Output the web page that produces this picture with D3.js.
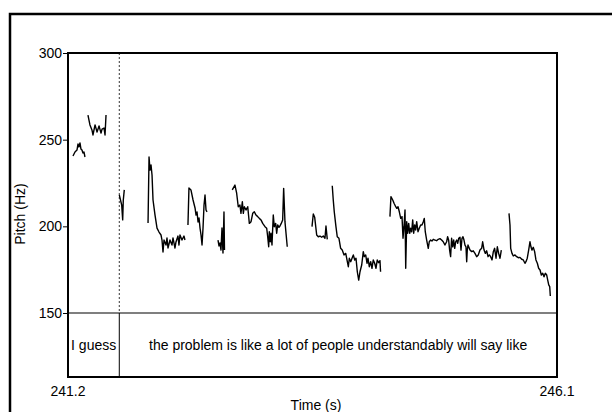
<!DOCTYPE html>
<html>
<head>
<meta charset="utf-8">
<script src="https://cdn.jsdelivr.net/npm/d3@7"></script>
<style>
  body { margin: 0; background: #fff; }
  text { font-family: "Liberation Sans", Arial, sans-serif; }
</style>
</head>
<body>
<div id="chart"></div>
<script>
const w = 612;
const h = 412;

// time range and pitch range
const timeRange = [241.2, 246.1];
const pitchRange = [150, 300];
const pitchTicks = [150, 200, 250, 300];
const timeTicks = ["241.2", "246.1"];

// textgrid tier
const boundaries = [241.714];
const words = [
  { start: 241.2, end: 241.714, text: "I guess" },
  { start: 241.714, end: 246.1, text: "the problem is like a lot of people understandably will say like" }
];

// pitch track, [time (s), pitch (Hz)]
const seg1 = [[241.250,240.6],[241.270,242.9],[241.290,244.0],[241.300,247.5],[241.310,245.8],[241.320,248.1],[241.330,244.6],[241.340,244.0],[241.350,242.3],[241.360,242.9],[241.370,240.0]];
const seg2 = [[241.400,264.2],[241.420,258.5],[241.440,255.6],[241.450,252.7],[241.471,258.5],[241.491,254.4],[241.511,257.9],[241.531,253.8],[241.541,256.1],[241.561,256.7],[241.571,252.7],[241.581,264.2]];
const seg3 = [[241.714,218.1],[241.738,212.3],[241.748,203.7],[241.754,215.2],[241.764,221.0]];
const seg4 = [[242.002,201.9],[242.012,240.0],[242.022,232.5],[242.032,235.4],[242.042,229.6],[242.052,215.2],[242.072,206.5],[242.092,199.0],[242.112,196.7],[242.132,195.0],[242.142,192.1],[242.152,185.2],[242.162,192.1],[242.182,189.2],[242.192,193.3],[242.202,187.5],[242.222,192.1],[242.242,189.2],[242.252,193.3],[242.272,187.5],[242.282,191.0],[242.302,194.4],[242.312,189.2],[242.322,195.0],[242.342,192.1],[242.362,194.4],[242.372,192.1]];
const seg5 = [[242.402,200.8],[242.412,222.1],[242.432,221.0],[242.453,215.2],[242.473,210.6],[242.483,206.5],[242.493,208.3],[242.503,202.5],[242.513,204.8],[242.523,199.0],[242.533,195.0],[242.543,189.2],[242.553,199.0],[242.563,212.3],[242.573,218.1],[242.583,209.4],[242.593,208.3]];
const seg6 = [[242.703,192.1],[242.713,188.7],[242.723,190.4],[242.733,186.3],[242.743,199.0],[242.753,184.6],[242.763,208.3],[242.768,186.3]];
const seg7 = [[242.846,221.0],[242.873,223.8],[242.890,219.1],[242.906,211.3],[242.923,212.3],[242.933,207.5],[242.947,214.2],[242.957,207.5],[242.967,211.3],[242.984,209.4],[243.001,211.3],[243.017,201.7],[243.034,202.7],[243.051,207.5],[243.067,208.4],[243.084,206.5],[243.101,205.6],[243.117,204.6],[243.134,203.7],[243.151,201.7],[243.174,199.8],[243.191,198.9],[243.201,194.0],[243.211,188.2],[243.217,196.9],[243.227,191.1],[243.234,196.0],[243.244,189.2],[243.257,206.5],[243.267,199.8],[243.281,201.7],[243.291,196.0],[243.301,200.8],[243.314,199.4],[243.324,200.2],[243.337,201.7],[243.351,203.7],[243.361,221.9],[243.374,202.7],[243.397,188.2]];
const seg8 = [[243.645,199.8],[243.658,207.1],[243.672,205.2],[243.692,195.0],[243.708,194.0],[243.725,194.4],[243.742,193.7],[243.758,194.4],[243.775,193.1],[243.785,200.2],[243.798,192.5]];
const seg9 = [[243.848,223.4],[243.858,215.2],[243.868,208.4],[243.885,199.8],[243.898,194.0],[243.915,193.1],[243.932,187.3],[243.948,186.3],[243.966,183.5],[243.983,184.4],[243.999,179.6],[244.009,176.7],[244.019,181.6],[244.033,179.6],[244.046,181.6],[244.059,183.5],[244.073,180.6],[244.086,181.6],[244.099,173.8],[244.113,169.0],[244.126,173.8],[244.143,177.7],[244.159,185.4],[244.169,182.5],[244.183,183.5],[244.196,178.7],[244.206,181.6],[244.219,176.7],[244.233,179.6],[244.246,175.8],[244.259,180.6],[244.273,178.7],[244.286,175.8],[244.299,180.6],[244.313,179.0],[244.326,180.2],[244.332,173.8]];
const seg10 = [[244.426,205.6],[244.436,217.1],[244.454,215.2],[244.467,213.3],[244.484,211.3],[244.494,210.4],[244.507,211.3],[244.520,208.4],[244.534,204.6],[244.547,205.6],[244.557,193.1],[244.567,199.8],[244.577,209.4],[244.584,175.8],[244.594,202.7],[244.604,196.0],[244.614,201.7],[244.624,196.0],[244.634,198.9],[244.644,196.9],[244.654,203.7],[244.664,196.0],[244.674,200.8],[244.684,197.9],[244.694,202.7],[244.707,196.9],[244.720,198.9],[244.734,200.8],[244.747,200.8],[244.760,202.7],[244.770,204.6],[244.780,196.9],[244.794,192.1],[244.810,187.3],[244.820,191.1],[244.834,192.1],[244.847,191.5],[244.860,192.5],[244.877,192.1],[244.894,191.7],[244.910,192.5],[244.927,192.9],[244.944,192.1],[244.960,191.1],[244.977,189.2],[244.994,191.1],[245.004,194.0],[245.014,192.1],[245.024,186.3],[245.034,182.5],[245.044,193.1],[245.055,188.2],[245.065,192.1],[245.075,187.3],[245.085,191.1],[245.095,192.1],[245.105,190.2],[245.115,193.1],[245.128,193.7],[245.138,186.3],[245.148,193.1],[245.158,194.0],[245.168,192.1],[245.178,189.2],[245.188,188.2],[245.195,179.6],[245.201,186.3],[245.208,189.2],[245.228,186.3],[245.245,185.4],[245.261,185.9],[245.278,184.4],[245.295,182.5],[245.311,183.5],[245.328,186.3],[245.345,187.3],[245.355,191.1],[245.369,186.3],[245.382,184.4],[245.395,185.9],[245.409,182.5],[245.422,183.5],[245.435,182.5],[245.449,180.6],[245.462,185.4],[245.475,187.3],[245.489,181.6],[245.502,188.2],[245.515,184.4],[245.529,181.6],[245.542,186.3]];
const seg11 = [[245.619,207.5],[245.629,200.8],[245.636,187.3],[245.649,184.4],[245.662,182.9],[245.679,183.5],[245.696,182.5],[245.712,181.9],[245.729,182.1],[245.746,181.0],[245.762,180.6],[245.779,178.7],[245.789,179.6],[245.802,181.6],[245.816,186.3],[245.829,191.1],[245.839,188.2],[245.849,186.3],[245.862,187.9],[245.876,185.4],[245.889,180.6],[245.903,178.7],[245.916,175.8],[245.930,174.8],[245.943,171.9],[245.957,172.9],[245.970,170.9],[245.983,172.9],[245.997,171.9],[246.007,169.0],[246.017,166.2],[246.027,165.2],[246.033,159.8]];

const segments = [seg1, seg2, seg3, seg4, seg5, seg6, seg7, seg8, seg9, seg10, seg11];

const plotLeft = 68, plotRight = 557, plotTop = 53, pitchBottom = 313, plotBottom = 377;

const svg = d3.select("#chart")
  .append("svg")
  .attr("width", w)
  .attr("height", h);

// outer frame
svg.append("rect")
  .attr("x", 10).attr("y", 14)
  .attr("width", 700).attr("height", 500)
  .attr("fill", "none")
  .attr("stroke", "#000")
  .attr("stroke-width", 2.5);

const x = d3.scaleLinear().domain(timeRange).range([plotLeft, plotRight]);
const y = d3.scaleLinear().domain(pitchRange).range([pitchBottom, plotTop]);

// boundary between pitch area and tier
svg.append("line")
  .attr("x1", plotLeft).attr("x2", plotRight)
  .attr("y1", y(150)).attr("y2", y(150))
  .attr("stroke", "#555")
  .attr("stroke-width", 1.3);

// word boundaries
boundaries.forEach(b => {
  svg.append("line")
    .attr("x1", x(b)).attr("x2", x(b))
    .attr("y1", plotTop).attr("y2", pitchBottom)
    .attr("stroke", "#000")
    .attr("stroke-width", 0.8)
    .attr("stroke-dasharray", "2,2");
  svg.append("line")
    .attr("x1", x(b)).attr("x2", x(b))
    .attr("y1", pitchBottom).attr("y2", plotBottom)
    .attr("stroke", "#000")
    .attr("stroke-width", 1);
});

svg.selectAll("text.word")
  .data(words)
  .enter()
  .append("text")
  .attr("class", "word")
  .attr("x", d => (x(d.start) + x(d.end)) / 2)
  .attr("y", 350)
  .attr("text-anchor", "middle")
  .attr("font-size", 14)
  .text(d => d.text);

// pitch track
const line = d3.line()
  .x(d => x(d[0]))
  .y(d => y(d[1]));

svg.selectAll("path.pitch")
  .data(segments)
  .enter()
  .append("path")
  .attr("class", "pitch")
  .attr("d", line)
  .attr("fill", "none")
  .attr("stroke", "#000")
  .attr("stroke-width", 1.4)
  .attr("stroke-linejoin", "round");

// plot frame
svg.append("rect")
  .attr("x", plotLeft).attr("y", plotTop)
  .attr("width", plotRight - plotLeft).attr("height", plotBottom - plotTop)
  .attr("fill", "none")
  .attr("stroke", "#000")
  .attr("stroke-width", 2);

// y axis
const yAxis = d3.axisLeft(y)
  .tickValues(pitchTicks)
  .tickSize(5)
  .tickPadding(1)
  .tickFormat(d3.format("d"));

const gy = svg.append("g")
  .attr("transform", `translate(${plotLeft},0)`)
  .call(yAxis);
gy.select(".domain").remove();
gy.selectAll("text")
  .attr("font-size", 14)
  .attr("font-family", "Liberation Sans, Arial, sans-serif")
  .attr("fill", "#000");

// x tick labels
svg.selectAll("text.xtick")
  .data(timeTicks)
  .enter()
  .append("text")
  .attr("class", "xtick")
  .attr("x", d => x(+d))
  .attr("y", 396)
  .attr("text-anchor", "middle")
  .attr("font-size", 14)
  .text(d => d);

svg.append("text")
  .attr("x", 316)
  .attr("y", 410)
  .attr("text-anchor", "middle")
  .attr("font-size", 14)
  .text("Time (s)");

svg.append("text")
  .attr("transform", "translate(25,214) rotate(-90)")
  .attr("text-anchor", "middle")
  .attr("font-size", 14)
  .text("Pitch (Hz)");
</script>
</body>
</html>
